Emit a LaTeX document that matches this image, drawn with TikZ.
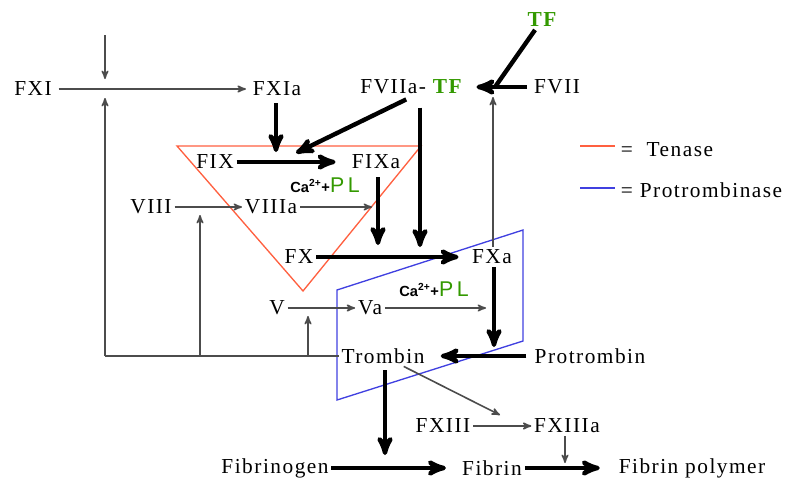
\documentclass[tikz,border=0pt]{standalone}
\usepackage{fontspec}
\setmainfont{Liberation Serif}[LetterSpace=7]
\newfontfamily\casans{Liberation Sans}
\usepackage{xcolor}
\usetikzlibrary{arrows}
\definecolor{tfgreen}{RGB}{51,153,0}
\definecolor{tenasered}{RGB}{255,96,64}
\definecolor{protroblue}{RGB}{64,64,224}
\newcommand{\capl}{{\casans\fontsize{11}{11}\selectfont\bfseries Ca\textsuperscript{2+}+}{\casans\fontsize{16}{16}\selectfont\color{tfgreen}P\,L}}

\begin{document}
\begin{tikzpicture}[x=0.75pt, y=-0.75pt,
    every node/.style={font=\fontsize{16}{18}\selectfont, inner sep=2pt},
    faint/.style={->, >=stealth', line width=1.2pt, draw=black!70},
    strong/.style={->, >=stealth', line width=3.3pt},
    tenase/.style={draw=tenasered, line width=1pt},
    protro/.style={draw=protroblue, line width=1pt}]
\useasboundingbox (0,0) rectangle (792,482);
\draw[tenase] (177,146) -- (421,146) -- (303,291) -- cycle;
\draw[protro] (337,290) -- (523,230) -- (523,341) -- (337,400) -- cycle;
\draw[tenase] (580,146) -- (615,146);
\draw[protro] (580,188) -- (615,188);
\node[anchor=west] (tenase) at (618,150) {= \ Tenase};
\node[anchor=west] (protrombinase) at (618,190) {= Protrombinase};

\node[text=tfgreen, font=\fontsize{16}{18}\selectfont\bfseries] (tf) at (542,20) {TF};
\node (fxi) at (33,89) {FXI};
\node (fxia) at (277,89) {FXIa};
\node (fviiatf) at (411,87) {FVIIa- \textcolor{tfgreen}{\bfseries TF}};
\node (fvii) at (557,87) {FVII};
\node (fix) at (215,162) {FIX};
\node (fixa) at (376,162) {FIXa};
\node (ca1) at (325,185) {\capl};
\node (viii) at (151,207) {VIII};
\node (viiia) at (271,207) {VIIIa};
\node (fx) at (299,257) {FX};
\node (fxa) at (492,257) {FXa};
\node (ca2) at (434,289) {\capl};
\node (v) at (277,308) {V};
\node (va) at (370,308) {Va};
\node (trombin) at (383,356) {Trombin};
\node (protrombin) at (590,356) {Protrombin};
\node (fxiii) at (443,426) {FXIII};
\node (fxiiia) at (567,426) {FXIIIa};
\node (fibrinogen) at (275,468) {Fibrinogen};
\node (fibrin) at (492,468) {Fibrin};
\node (polymer) at (692,468) {Fibrin polymer};

\coordinate (xitop) at (105,35);
\coordinate (xijoin) at (105,79);
\coordinate (xiup) at (105,98);
\coordinate (loopL) at (105,356);
\coordinate (b200) at (200,356);
\coordinate (b308) at (308,356);
\coordinate (viiiup) at (200,215);
\coordinate (vup) at (308,316);
\coordinate (tfjoin) at (495,87);
\coordinate (ixjoin1) at (276,152);
\coordinate (ixjoin2) at (296,153);
\coordinate (xjoin1) at (420,247);
\coordinate (xjoin2) at (378,245);
\coordinate (viiitip) at (372,207);
\coordinate (viijoin) at (493,97);
\coordinate (vtip) at (486,308);
\coordinate (iitip) at (494,347);
\coordinate (fgjoin) at (385,455);
\coordinate (xiiitip) at (500,415);
\coordinate (fbjoin) at (565,463);

\draw
(xitop) edge[faint] (xijoin)
(fxi) edge[faint, shorten <=3pt, shorten >=3pt] (fxia)
(loopL) edge[faint] (xiup)
(b200) edge[faint] (viiiup)
(b308) edge[faint] (vup)
(trombin.west) edge[faint, -] (loopL)
(tf) edge[strong, -] (tfjoin)
(fvii) edge[strong, shorten <=3pt, shorten >=9pt] (fviiatf)
(fxia.south -| ixjoin1) edge[strong, shorten <=3pt] (ixjoin1)
(fviiatf.south) edge[strong, shorten <=4pt] (ixjoin2)
(fviiatf.south -| xjoin1) edge[strong, shorten <=8pt] (xjoin1)
(fix) edge[strong, shorten >=10pt] (fixa)
(fixa.south -| xjoin2) edge[strong, shorten <=4pt] (xjoin2)
(viii) edge[faint] (viiia)
(viiia) edge[faint] (viiitip)
(fx) edge[strong, shorten >=8pt] (fxa)
(fxa.north -| viijoin) edge[faint] (viijoin)
(v) edge[faint] (va)
(va) edge[faint] (vtip)
(fxa.south -| iitip) edge[strong] (iitip)
(protrombin) edge[strong, shorten <=4pt, shorten >=10pt] (trombin)
(trombin.south -| fgjoin) edge[strong, shorten <=3pt] (fgjoin)
(trombin) edge[faint] (xiiitip)
(fxiii) edge[faint] (fxiiia)
(fibrinogen) edge[strong, shorten >=10pt] (fibrin)
(fibrin) edge[strong, shorten >=12pt] (polymer)
(fxiiia.south -| fbjoin) edge[faint] (fbjoin);
\end{tikzpicture}
\end{document}
